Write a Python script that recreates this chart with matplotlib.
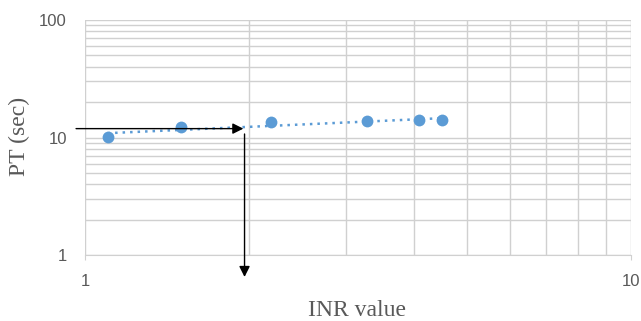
import matplotlib.pyplot as plt
import numpy as np
from matplotlib.ticker import LogLocator, NullFormatter, FixedLocator

inr = [1.10, 1.50, 2.19, 3.29, 4.09, 4.50]
pt = [10.1, 12.2, 13.5, 13.7, 14.0, 14.2]

# reading guide: patient PT -> INR
guide_pt = 11.9
guide_inr = 1.95
guide_x_start = 0.963
guide_y_end = 0.65

BLUE = "#5B9BD5"
GRID = "#D0D0D0"
TXT = "#595959"

fig = plt.figure(figsize=(6.41, 3.21), dpi=100)
ax = fig.add_axes([0.1326, 0.2056, 0.8518, 0.7321])

ax.set_xscale("log")
ax.set_yscale("log")
ax.set_xlim(1, 10)
ax.set_ylim(1, 100)

# power trendline (straight in log-log)
b, a = np.polyfit(np.log10(inr), np.log10(pt), 1)
xt = np.array([inr[0], inr[-1]])
ax.plot(xt, 10 ** (a + b * np.log10(xt)), linestyle=(0, (1, 2)),
        color=BLUE, linewidth=1.8, zorder=3)

ax.plot(inr, pt, "o", color=BLUE, markersize=8.5, markeredgewidth=0, zorder=4)

# grid
ax.xaxis.set_major_locator(FixedLocator([1, 10]))
ax.yaxis.set_major_locator(FixedLocator([1, 10, 100]))
ax.xaxis.set_minor_locator(LogLocator(base=10, subs=np.arange(2, 10)))
ax.yaxis.set_minor_locator(LogLocator(base=10, subs=np.arange(2, 10)))
ax.xaxis.set_minor_formatter(NullFormatter())
ax.yaxis.set_minor_formatter(NullFormatter())
ax.set_xticklabels(["1", "10"])
ax.set_yticklabels(["1", "10", "100"])
ax.grid(True, which="both", color=GRID, linewidth=1.0, zorder=0)
ax.set_axisbelow(True)

for s in ["top", "right", "left"]:
    ax.spines[s].set_visible(False)
ax.spines["bottom"].set_color(GRID)
ax.tick_params(axis="x", which="major", length=3.6, color=GRID, pad=10,
               labelsize=12, labelcolor=TXT)
ax.tick_params(axis="y", which="major", length=0, pad=13,
               labelsize=12, labelcolor=TXT)
ax.tick_params(which="minor", length=0)
for lab in ax.get_xticklabels() + ax.get_yticklabels():
    lab.set_family("Liberation Sans")

# arrows
ax.annotate("", xy=(guide_inr, guide_pt), xytext=(guide_x_start, guide_pt),
            arrowprops=dict(arrowstyle="-|>", color="black", lw=1.0,
                            mutation_scale=16, shrinkA=0, shrinkB=0),
            annotation_clip=False, zorder=5)
ax.annotate("", xy=(guide_inr * 1.005, guide_y_end),
            xytext=(guide_inr * 1.005, guide_pt * 0.9),
            arrowprops=dict(arrowstyle="-|>", color="black", lw=1.0,
                            mutation_scale=16, shrinkA=0, shrinkB=0),
            annotation_clip=False, zorder=5)

fig.text(0.031, 0.576, "PT (sec)", rotation=90, ha="center", va="center",
         family="Liberation Serif", fontsize=17, color=TXT)
fig.text(0.557, 0.034, "INR value", ha="center", va="center",
         family="Liberation Serif", fontsize=17, color=TXT)

fig.savefig("out.png", dpi=100)
